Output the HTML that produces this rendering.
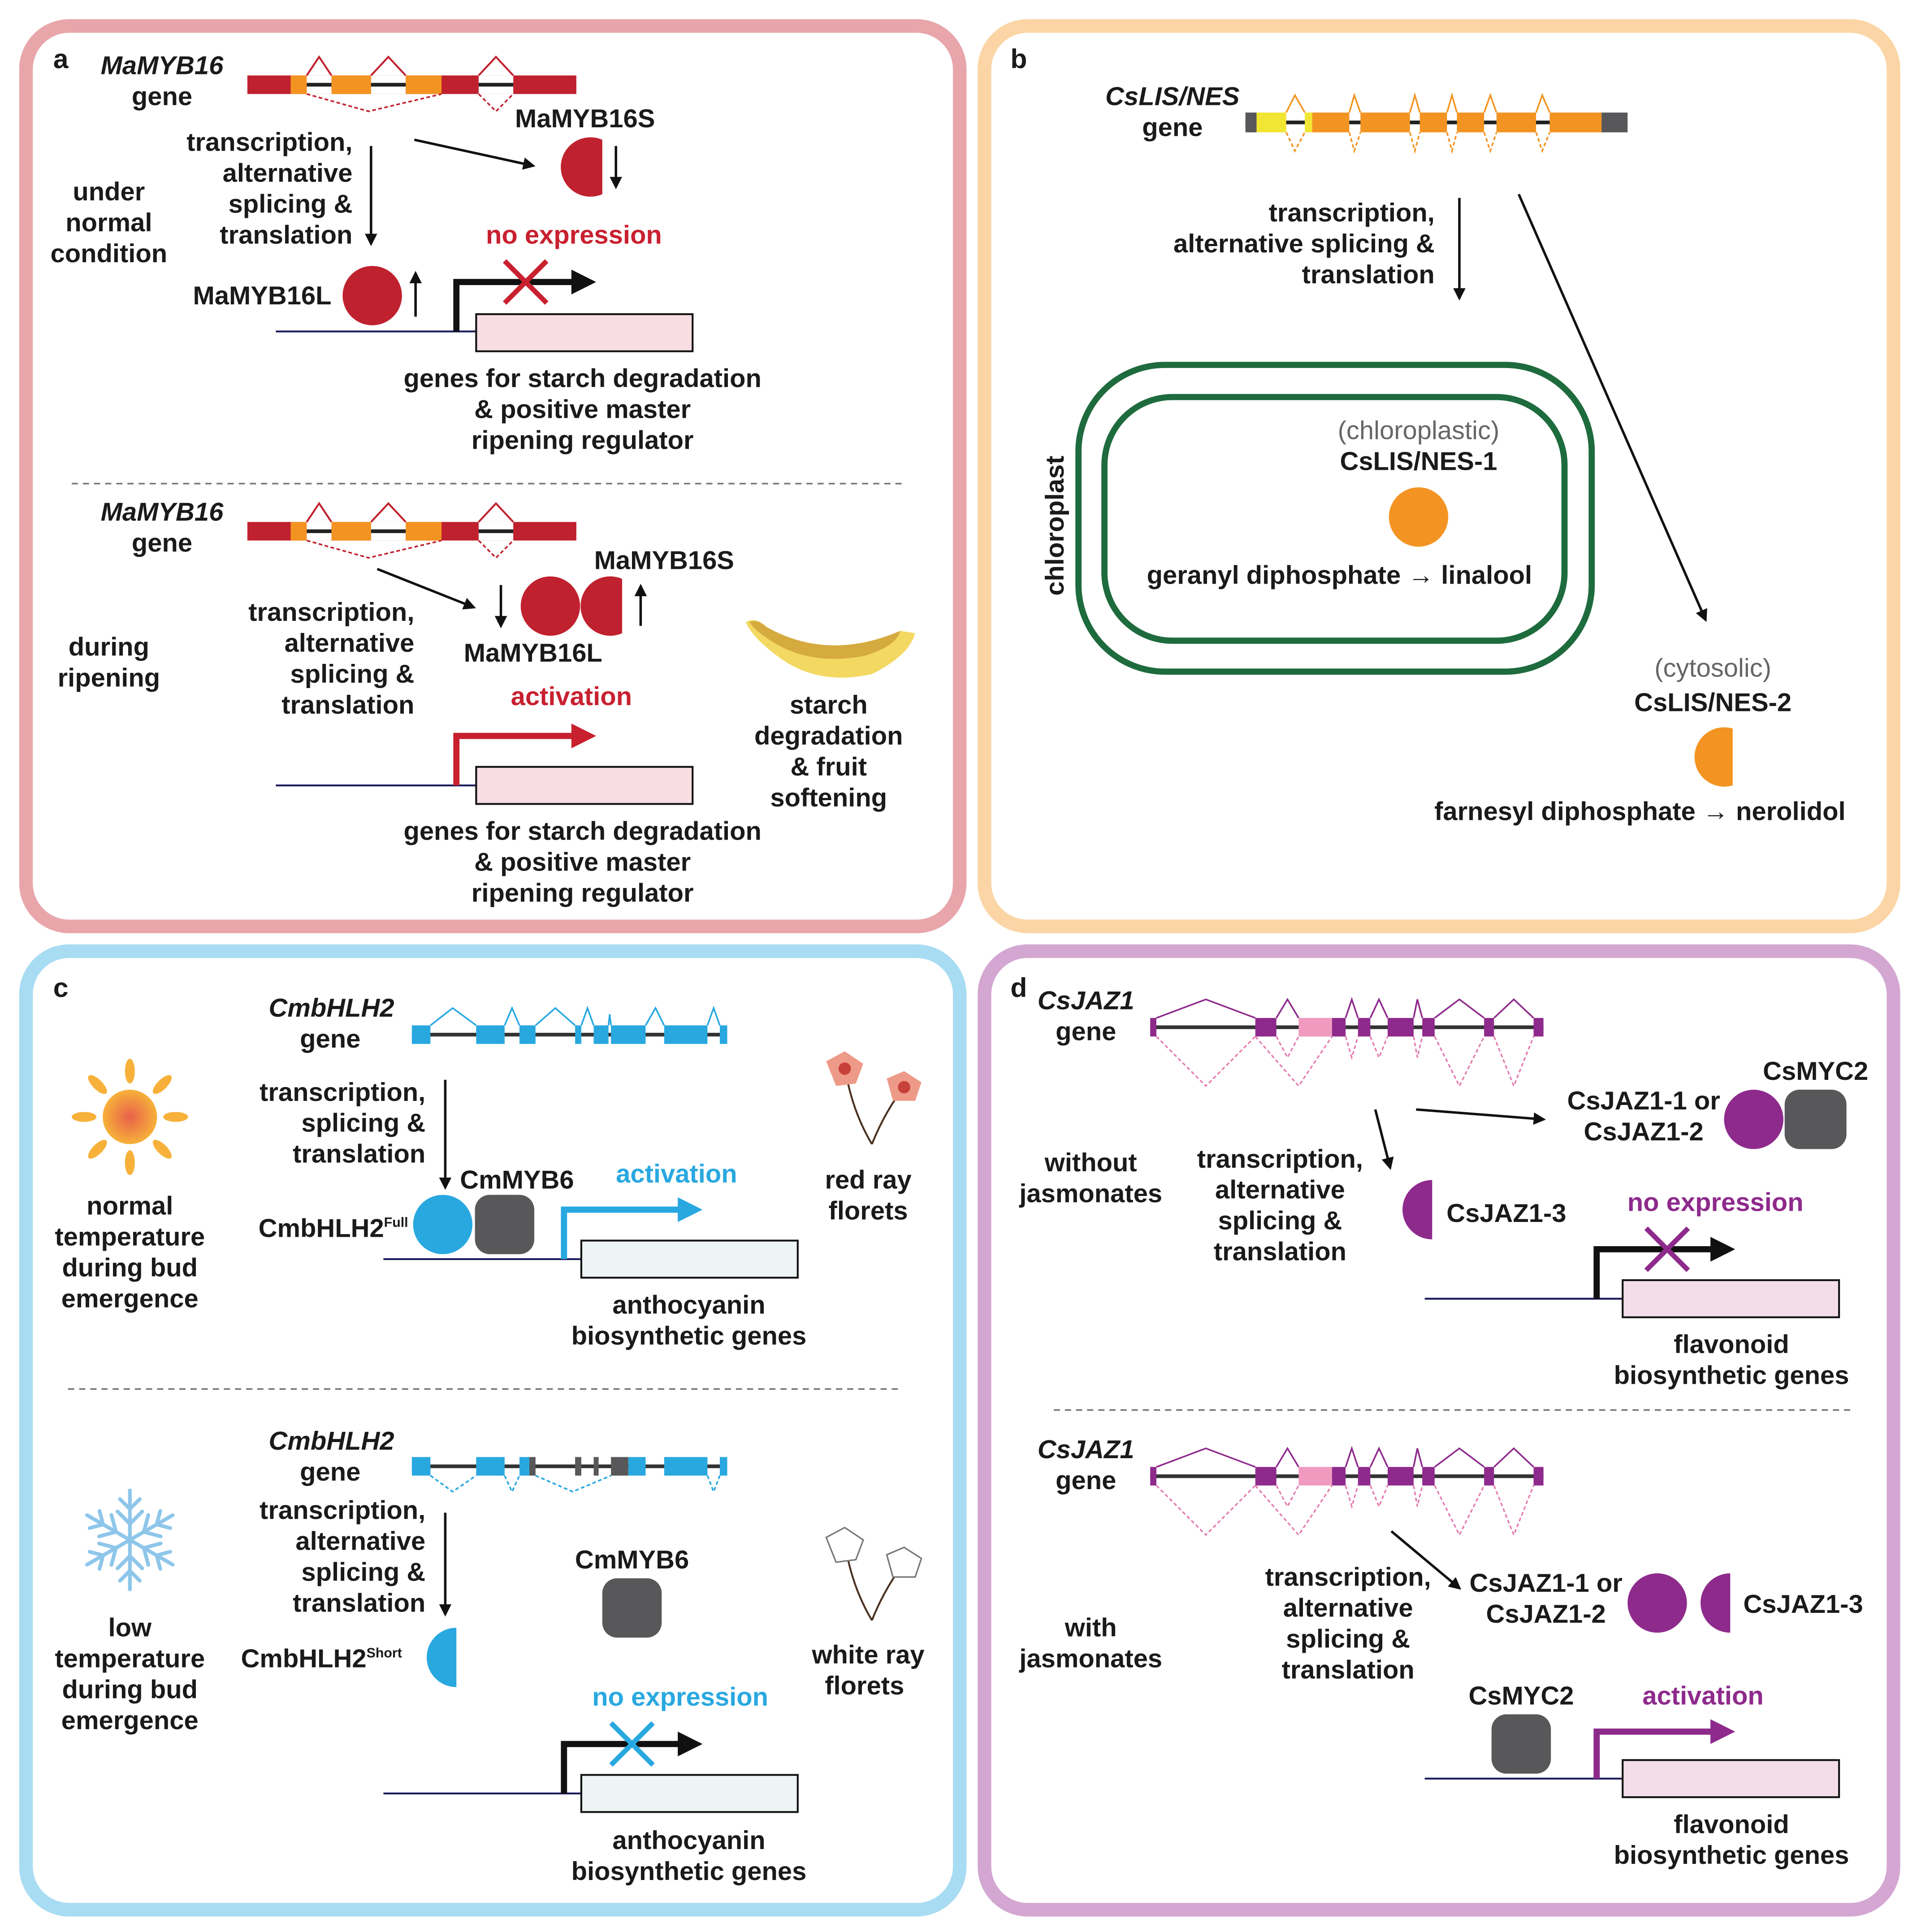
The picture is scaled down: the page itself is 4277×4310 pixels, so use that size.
<!DOCTYPE html>
<html><head><meta charset="utf-8"><style>
html,body{margin:0;padding:0;background:#fff;}
svg{display:block;}
text{font-family:"Liberation Sans",Arial,sans-serif;font-weight:bold;font-size:21px;fill:#1a1a1a;}
.c{text-anchor:middle}.r{text-anchor:end}.i{font-style:italic}
</style></head><body>
<svg width="4277" height="4310" viewBox="0 0 1550 1562" xmlns="http://www.w3.org/2000/svg">
<defs>
<marker id="ah" markerWidth="10" markerHeight="10" refX="8" refY="5" orient="auto" markerUnits="userSpaceOnUse"><path d="M0,0 L10,5 L0,10 Z" fill="#111"/></marker>
<radialGradient id="sun"><stop offset="0" stop-color="#e8604a"/><stop offset="1" stop-color="#f7b13a"/></radialGradient>
</defs>
<rect width="1550" height="1562" fill="#fff"/>
<rect x="21" y="21" width="755" height="728" rx="35" fill="none" stroke="#e8a6ab" stroke-width="11"/>
<rect x="796" y="21" width="735" height="728" rx="35" fill="none" stroke="#fbd5a5" stroke-width="11"/>
<rect x="21" y="769" width="755" height="775" rx="35" fill="none" stroke="#a8dcf2" stroke-width="11"/>
<rect x="796" y="769" width="735" height="775" rx="35" fill="none" stroke="#d3a7d2" stroke-width="11"/>

<g stroke="#111" stroke-width="2" fill="none">
<line x1="300" y1="118" x2="300" y2="197" marker-end="url(#ah)"/>
<line x1="335" y1="113" x2="431" y2="134" marker-end="url(#ah)"/>
<line x1="498" y1="118" x2="498" y2="151" marker-end="url(#ah)"/>
<line x1="336" y1="256" x2="336" y2="221" marker-end="url(#ah)"/>
<line x1="305" y1="460" x2="383" y2="491" marker-end="url(#ah)"/>
<line x1="405" y1="473" x2="405" y2="506" marker-end="url(#ah)"/>
<line x1="518" y1="506" x2="518" y2="474" marker-end="url(#ah)"/>
<line x1="1180" y1="160" x2="1180" y2="241" marker-end="url(#ah)"/>
<line x1="1228" y1="157" x2="1379" y2="501" marker-end="url(#ah)"/>
<line x1="360" y1="873" x2="360" y2="960" marker-end="url(#ah)"/>
<line x1="360" y1="1223" x2="360" y2="1305" marker-end="url(#ah)"/>
<line x1="1112" y1="897" x2="1124" y2="944" marker-end="url(#ah)"/>
<line x1="1145" y1="897" x2="1248" y2="905" marker-end="url(#ah)"/>
<line x1="1125" y1="1238" x2="1180" y2="1284" marker-end="url(#ah)"/>
</g>

<!-- ===== Panel a ===== -->
<text x="43" y="55" style="font-size:22px">a</text>
<text x="131" y="60" class="c i">MaMYB16</text><text x="131" y="85" class="c">gene</text>
<g id="ga">
<rect x="200" y="61" width="266" height="15" fill="#c0212e"/>
<rect x="235" y="61" width="13" height="15" fill="#f39422"/>
<rect x="268" y="61" width="32" height="15" fill="#f39422"/>
<rect x="328" y="61" width="29" height="15" fill="#f39422"/>
<rect x="248" y="61" width="20" height="15" fill="#fff"/>
<rect x="300" y="61" width="28" height="15" fill="#fff"/>
<rect x="387" y="61" width="28" height="15" fill="#fff"/>
<line x1="248" y1="68.5" x2="268" y2="68.5" stroke="#222" stroke-width="3"/>
<line x1="300" y1="68.5" x2="328" y2="68.5" stroke="#222" stroke-width="3"/>
<line x1="387" y1="68.5" x2="415" y2="68.5" stroke="#222" stroke-width="3"/>
<polyline points="248,61 258,46 268,61" fill="none" stroke="#c0212e" stroke-width="1.5"/>
<polyline points="300,61 314,46 328,61" fill="none" stroke="#c0212e" stroke-width="1.5"/>
<polyline points="387,61 401,46 415,61" fill="none" stroke="#c0212e" stroke-width="1.5"/>
<polyline points="248,76 298,90 357,76" fill="none" stroke="#c0212e" stroke-width="1.3" stroke-dasharray="3,2"/>
<polyline points="387,76 401,90 415,76" fill="none" stroke="#c0212e" stroke-width="1.3" stroke-dasharray="3,2"/>
</g>
<use href="#ga" transform="translate(0,361)"/>
<text x="285" y="122" class="r">transcription,</text><text x="285" y="147" class="r">alternative</text><text x="285" y="172" class="r">splicing &amp;</text><text x="285" y="197" class="r">translation</text>
<text x="473" y="103" class="c">MaMYB16S</text>
<path d="M487,113 A24,24 0 1 0 487,157 Z" fill="#c0212e"/>
<text x="88" y="162" class="c">under</text><text x="88" y="187" class="c">normal</text><text x="88" y="212" class="c">condition</text>
<text x="464" y="197" class="c" style="fill:#c8202f">no expression</text>
<text x="268" y="246" class="r">MaMYB16L</text>
<circle cx="301" cy="239" r="24" fill="#c0212e"/>
<line x1="223" y1="268" x2="385" y2="268" stroke="#1a1a5a" stroke-width="1.5"/>
<rect x="385" y="254" width="175" height="30" fill="#f8dde2" stroke="#111" stroke-width="1.5"/>
<polyline points="369,268 369,228 466,228" fill="none" stroke="#111" stroke-width="5"/>
<path d="M462,218 L482,228 L462,238Z" fill="#111"/>
<g stroke="#c8202f" stroke-width="4"><line x1="408" y1="211" x2="442" y2="245"/><line x1="442" y1="211" x2="408" y2="245"/></g>
<text x="471" y="313" class="c">genes for starch degradation</text><text x="471" y="338" class="c">&amp; positive master</text><text x="471" y="363" class="c">ripening regulator</text>
<line x1="58" y1="391" x2="732" y2="391" stroke="#777" stroke-width="1.3" stroke-dasharray="5,4"/>
<text x="131" y="421" class="c i">MaMYB16</text><text x="131" y="446" class="c">gene</text>
<circle cx="445" cy="490" r="24" fill="#c0212e"/>
<path d="M503,468 A24,24 0 1 0 503,512 Z" fill="#c0212e"/>
<text x="537" y="460" class="c">MaMYB16S</text><text x="431" y="535" class="c">MaMYB16L</text>
<text x="335" y="502" class="r">transcription,</text><text x="335" y="527" class="r">alternative</text><text x="335" y="552" class="r">splicing &amp;</text><text x="335" y="577" class="r">translation</text>
<text x="88" y="530" class="c">during</text><text x="88" y="555" class="c">ripening</text>
<text x="462" y="570" class="c" style="fill:#c8202f">activation</text>
<line x1="223" y1="635" x2="385" y2="635" stroke="#1a1a5a" stroke-width="1.5"/>
<rect x="385" y="620" width="175" height="30" fill="#f8dde2" stroke="#111" stroke-width="1.5"/>
<polyline points="369,635 369,595 466,595" fill="none" stroke="#c8202f" stroke-width="5"/>
<path d="M462,585 L482,595 L462,605Z" fill="#c8202f"/>
<text x="471" y="679" class="c">genes for starch degradation</text><text x="471" y="704" class="c">&amp; positive master</text><text x="471" y="729" class="c">ripening regulator</text>
<path d="M603,503 Q612,498 620,508 Q670,540 728,510 L740,512 Q735,530 705,545 Q660,555 628,530 Q608,515 603,503Z" fill="#f3d862"/>
<path d="M606,503 Q612,500 620,507 Q670,535 728,510 Q725,522 700,530 Q660,538 630,522 Q612,512 606,503Z" fill="#d5aa3e"/>
<text x="670" y="577" class="c">starch</text><text x="670" y="602" class="c">degradation</text><text x="670" y="627" class="c">&amp; fruit</text><text x="670" y="652" class="c">softening</text>

<!-- ===== Panel b ===== -->
<text x="817" y="55" style="font-size:22px">b</text>
<text x="948" y="85" class="c i">CsLIS/NES</text><text x="948" y="110" class="c">gene</text>
<line x1="1007" y1="99" x2="1316" y2="99" stroke="#222" stroke-width="3"/>
<rect x="1007" y="91" width="9" height="16" fill="#58585a"/>
<rect x="1016" y="91" width="24" height="16" fill="#f1e634"/>
<rect x="1055" y="91" width="6" height="16" fill="#f1e634"/>
<g fill="#f39422"><rect x="1061" y="91" width="30" height="16"/><rect x="1100" y="91" width="40" height="16"/><rect x="1148" y="91" width="22" height="16"/><rect x="1178" y="91" width="22" height="16"/><rect x="1210" y="91" width="32" height="16"/><rect x="1253" y="91" width="42" height="16"/></g>
<rect x="1295" y="91" width="21" height="16" fill="#58585a"/>
<g fill="none" stroke="#f39422" stroke-width="1.3">
<polyline points="1040,91 1047,77 1055,91"/><polyline points="1091,91 1095,77 1100,91"/><polyline points="1140,91 1144,77 1148,91"/><polyline points="1170,91 1174,77 1178,91"/><polyline points="1200,91 1205,77 1210,91"/><polyline points="1242,91 1247,77 1253,91"/>
<g stroke-dasharray="3,2"><polyline points="1040,107 1047,122 1055,107"/><polyline points="1091,107 1095,122 1100,107"/><polyline points="1140,107 1144,122 1148,107"/><polyline points="1170,107 1174,122 1178,107"/><polyline points="1200,107 1205,122 1210,107"/><polyline points="1242,107 1247,122 1253,107"/></g>
</g>
<text x="1160" y="179" class="r">transcription,</text><text x="1160" y="204" class="r">alternative splicing &amp;</text><text x="1160" y="229" class="r">translation</text>
<rect x="872" y="295" width="415" height="248" rx="70" fill="none" stroke="#1e6b3e" stroke-width="5"/>
<rect x="893" y="321" width="372" height="197" rx="55" fill="none" stroke="#1e6b3e" stroke-width="5"/>
<text transform="translate(860,425) rotate(-90)" class="c">chloroplast</text>
<text x="1147" y="355" class="c" style="fill:#666;font-weight:normal">(chloroplastic)</text>
<text x="1147" y="380" class="c">CsLIS/NES-1</text>
<circle cx="1147" cy="418" r="24" fill="#f39422"/>
<text x="1083" y="472" class="c">geranyl diphosphate → linalool</text>
<text x="1385" y="547" class="c" style="fill:#666;font-weight:normal">(cytosolic)</text>
<text x="1385" y="575" class="c">CsLIS/NES-2</text>
<path d="M1401,589 A24,24 0 1 0 1401,635 Z" fill="#f39422"/>
<text x="1326" y="663" class="c">farnesyl diphosphate → nerolidol</text>

<!-- ===== Panel c ===== -->
<text x="43" y="806" style="font-size:22px">c</text>
<text x="268" y="822" class="c i">CmbHLH2</text><text x="267" y="847" class="c">gene</text>
<line x1="333" y1="836.5" x2="588" y2="836.5" stroke="#333" stroke-width="3"/>
<g fill="#29a8e0"><rect x="333" y="829" width="15" height="15"/><rect x="385" y="829" width="23" height="15"/><rect x="420" y="829" width="13" height="15"/><rect x="465" y="829" width="5" height="15"/><rect x="480" y="829" width="12" height="15"/><rect x="494" y="829" width="28" height="15"/><rect x="537" y="829" width="35" height="15"/><rect x="582" y="829" width="6" height="15"/></g>
<g fill="none" stroke="#29a8e0" stroke-width="1.3"><polyline points="348,829 366,815 385,829"/><polyline points="408,829 414,815 420,829"/><polyline points="433,829 449,815 465,829"/><polyline points="470,829 475,815 480,829"/><polyline points="492,829 493,820 494,829"/><polyline points="522,829 530,815 537,829"/><polyline points="572,829 577,815 582,829"/></g>
<g fill="#f7b13a"><g id="ray"><ellipse cx="105" cy="866" rx="4" ry="10"/></g>
<use href="#ray" transform="rotate(45 105 903)"/><use href="#ray" transform="rotate(90 105 903)"/><use href="#ray" transform="rotate(135 105 903)"/><use href="#ray" transform="rotate(180 105 903)"/><use href="#ray" transform="rotate(225 105 903)"/><use href="#ray" transform="rotate(270 105 903)"/><use href="#ray" transform="rotate(315 105 903)"/></g>
<circle cx="105" cy="903" r="22" fill="url(#sun)"/>
<text x="105" y="982" class="c">normal</text><text x="105" y="1007" class="c">temperature</text><text x="105" y="1032" class="c">during bud</text><text x="105" y="1057" class="c">emergence</text>
<text x="344" y="890" class="r">transcription,</text><text x="344" y="915" class="r">splicing &amp;</text><text x="344" y="940" class="r">translation</text>
<text x="418" y="961" class="c">CmMYB6</text>
<text x="330" y="1000" class="r">CmbHLH2<tspan dy="-8" style="font-size:11px">Full</tspan></text>
<circle cx="358" cy="990" r="24" fill="#29a8e0"/>
<rect x="384" y="966" width="48" height="48" rx="12" fill="#58585a"/>
<text x="547" y="956" class="c" style="fill:#29a8e0">activation</text>
<line x1="310" y1="1018" x2="470" y2="1018" stroke="#1a1a5a" stroke-width="1.5"/>
<rect x="470" y="1003" width="175" height="30" fill="#ecf4f6" stroke="#111" stroke-width="1.5"/>
<polyline points="456,1018 456,978 552,978" fill="none" stroke="#29a8e0" stroke-width="5"/>
<path d="M548,968 L568,978 L548,988Z" fill="#29a8e0"/>
<text x="557" y="1062" class="c">anthocyanin</text><text x="557" y="1087" class="c">biosynthetic genes</text>
<g stroke="#4a3020" stroke-width="1.5" fill="none"><path d="M684,868 Q690,900 705,925"/><path d="M730,880 Q715,900 705,925"/></g>
<g fill="#ee9a88"><path d="M668,858 L683,850 L698,860 L692,876 L676,878Z"/><path d="M717,872 L731,866 L745,875 L740,890 L722,890Z"/></g>
<circle cx="683" cy="864" r="5" fill="#c8403a"/><circle cx="731" cy="879" r="5" fill="#c8403a"/>
<text x="702" y="961" class="c">red ray</text><text x="702" y="986" class="c">florets</text>
<line x1="55" y1="1123" x2="728" y2="1123" stroke="#777" stroke-width="1.3" stroke-dasharray="5,4"/>
<text x="268" y="1172" class="c i">CmbHLH2</text><text x="267" y="1197" class="c">gene</text>
<line x1="333" y1="1185.5" x2="588" y2="1185.5" stroke="#333" stroke-width="3"/>
<g fill="#29a8e0"><rect x="333" y="1178" width="15" height="15"/><rect x="385" y="1178" width="23" height="15"/><rect x="420" y="1178" width="8" height="15"/><rect x="508" y="1178" width="14" height="15"/><rect x="537" y="1178" width="35" height="15"/><rect x="582" y="1178" width="6" height="15"/></g>
<g fill="#58585a"><rect x="428" y="1178" width="5" height="15"/><rect x="465" y="1178" width="5" height="15"/><rect x="480" y="1178" width="4" height="15"/><rect x="494" y="1178" width="14" height="15"/></g>
<g fill="none" stroke="#29a8e0" stroke-width="1.3" stroke-dasharray="3,2"><polyline points="348,1193 366,1206 385,1193"/><polyline points="408,1193 414,1206 420,1193"/><polyline points="433,1193 463,1206 494,1193"/><polyline points="572,1193 577,1206 582,1193"/></g>
<g stroke="#8ec6ea" stroke-width="3" fill="none" stroke-linecap="round">
<g id="arm"><line x1="105" y1="1245" x2="105" y2="1205"/><polyline points="97,1212 105,1220 113,1212"/><polyline points="95,1222 105,1232 115,1222"/></g>
<use href="#arm" transform="rotate(60 105 1245)"/><use href="#arm" transform="rotate(120 105 1245)"/><use href="#arm" transform="rotate(180 105 1245)"/><use href="#arm" transform="rotate(240 105 1245)"/><use href="#arm" transform="rotate(300 105 1245)"/></g>
<text x="105" y="1323" class="c">low</text><text x="105" y="1348" class="c">temperature</text><text x="105" y="1373" class="c">during bud</text><text x="105" y="1398" class="c">emergence</text>
<text x="344" y="1228" class="r">transcription,</text><text x="344" y="1253" class="r">alternative</text><text x="344" y="1278" class="r">splicing &amp;</text><text x="344" y="1303" class="r">translation</text>
<text x="511" y="1268" class="c">CmMYB6</text>
<rect x="487" y="1276" width="48" height="48" rx="12" fill="#58585a"/>
<text x="325" y="1348" class="r">CmbHLH2<tspan dy="-8" style="font-size:11px">Short</tspan></text>
<path d="M369,1316 A24,24 0 1 0 369,1364 Z" fill="#29a8e0"/>
<text x="550" y="1379" class="c" style="fill:#29a8e0">no expression</text>
<line x1="310" y1="1450" x2="470" y2="1450" stroke="#1a1a5a" stroke-width="1.5"/>
<rect x="470" y="1435" width="175" height="30" fill="#ecf4f6" stroke="#111" stroke-width="1.5"/>
<polyline points="456,1450 456,1410 552,1410" fill="none" stroke="#111" stroke-width="5"/>
<path d="M548,1400 L568,1410 L548,1420Z" fill="#111"/>
<g stroke="#29a8e0" stroke-width="4"><line x1="494" y1="1393" x2="528" y2="1427"/><line x1="528" y1="1393" x2="494" y2="1427"/></g>
<text x="557" y="1495" class="c">anthocyanin</text><text x="557" y="1520" class="c">biosynthetic genes</text>
<g stroke="#4a3020" stroke-width="1.5" fill="none"><path d="M684,1253 Q690,1285 705,1310"/><path d="M730,1265 Q715,1285 705,1310"/></g>
<g fill="#fff" stroke="#777" stroke-width="1.2"><path d="M668,1243 L683,1235 L698,1245 L692,1261 L676,1263Z"/><path d="M717,1257 L731,1251 L745,1260 L740,1275 L722,1275Z"/></g>
<text x="702" y="1345" class="c">white ray</text><text x="699" y="1370" class="c">florets</text>

<!-- ===== Panel d ===== -->
<text x="817" y="806" style="font-size:22px">d</text>
<g id="gd">
<line x1="930" y1="830.5" x2="1248" y2="830.5" stroke="#333" stroke-width="3"/>
<g fill="#8e2a8c"><rect x="930" y="823" width="5" height="15"/><rect x="1015" y="823" width="17" height="15"/><rect x="1077" y="823" width="11" height="15"/><rect x="1098" y="823" width="10" height="15"/><rect x="1122" y="823" width="21" height="15"/><rect x="1150" y="823" width="10" height="15"/><rect x="1200" y="823" width="8" height="15"/><rect x="1240" y="823" width="8" height="15"/></g>
<rect x="1050" y="823" width="27" height="15" fill="#f09ac0"/>
<g fill="none" stroke="#8e2a8c" stroke-width="1.3"><polyline points="935,823 975,808 1015,823"/><polyline points="1032,823 1041,808 1050,823"/><polyline points="1088,823 1093,808 1098,823"/><polyline points="1108,823 1115,808 1122,823"/><polyline points="1143,823 1146,808 1150,823"/><polyline points="1160,823 1180,808 1200,823"/><polyline points="1208,823 1224,808 1240,823"/></g>
<g fill="none" stroke="#e57ab0" stroke-width="1.2" stroke-dasharray="3,2"><polyline points="935,838 975,878 1015,838"/><polyline points="1032,838 1041,855 1050,838"/><polyline points="1015,838 1050,878 1077,838"/><polyline points="1088,838 1093,855 1098,838"/><polyline points="1108,838 1115,855 1122,838"/><polyline points="1143,838 1146,855 1150,838"/><polyline points="1160,838 1180,878 1200,838"/><polyline points="1208,838 1224,878 1240,838"/></g>
</g>
<text x="878" y="816" class="c i">CsJAZ1</text><text x="878" y="841" class="c">gene</text>
<text x="1468" y="873" class="c">CsMYC2</text>
<text x="1329" y="897" class="c">CsJAZ1-1 or</text><text x="1329" y="922" class="c">CsJAZ1-2</text>
<circle cx="1418" cy="905" r="24" fill="#8e2a8c"/>
<rect x="1443" y="881" width="50" height="48" rx="12" fill="#58585a"/>
<text x="882" y="947" class="c">without</text><text x="882" y="972" class="c">jasmonates</text>
<text x="1035" y="944" class="c">transcription,</text><text x="1035" y="969" class="c">alternative</text><text x="1035" y="994" class="c">splicing &amp;</text><text x="1035" y="1019" class="c">translation</text>
<path d="M1158,954 A24,24 0 1 0 1158,1002 Z" fill="#8e2a8c"/>
<text x="1218" y="988" class="c">CsJAZ1-3</text>
<text x="1387" y="979" class="c" style="fill:#8e2a8c">no expression</text>
<line x1="1152" y1="1050" x2="1312" y2="1050" stroke="#1a1a5a" stroke-width="1.5"/>
<rect x="1312" y="1035" width="175" height="30" fill="#f3dde8" stroke="#111" stroke-width="1.5"/>
<polyline points="1291,1050 1291,1010 1387,1010" fill="none" stroke="#111" stroke-width="5"/>
<path d="M1383,1000 L1403,1010 L1383,1020Z" fill="#111"/>
<g stroke="#8e2a8c" stroke-width="4"><line x1="1331" y1="993" x2="1365" y2="1027"/><line x1="1365" y1="993" x2="1331" y2="1027"/></g>
<text x="1400" y="1094" class="c">flavonoid</text><text x="1400" y="1119" class="c">biosynthetic genes</text>
<line x1="852" y1="1140" x2="1498" y2="1140" stroke="#777" stroke-width="1.3" stroke-dasharray="5,4"/>
<use href="#gd" transform="translate(0,363)"/>
<text x="878" y="1179" class="c i">CsJAZ1</text><text x="878" y="1204" class="c">gene</text>
<text x="882" y="1323" class="c">with</text><text x="882" y="1348" class="c">jasmonates</text>
<text x="1090" y="1282" class="c">transcription,</text><text x="1090" y="1307" class="c">alternative</text><text x="1090" y="1332" class="c">splicing &amp;</text><text x="1090" y="1357" class="c">translation</text>
<text x="1250" y="1287" class="c">CsJAZ1-1 or</text><text x="1250" y="1312" class="c">CsJAZ1-2</text>
<circle cx="1340" cy="1296" r="24" fill="#8e2a8c"/>
<path d="M1399,1272 A24,24 0 1 0 1399,1320 Z" fill="#8e2a8c"/>
<text x="1458" y="1304" class="c">CsJAZ1-3</text>
<text x="1230" y="1378" class="c">CsMYC2</text>
<rect x="1206" y="1386" width="48" height="48" rx="12" fill="#58585a"/>
<text x="1377" y="1378" class="c" style="fill:#8e2a8c">activation</text>
<line x1="1152" y1="1438" x2="1312" y2="1438" stroke="#1a1a5a" stroke-width="1.5"/>
<rect x="1312" y="1423" width="175" height="30" fill="#f3dde8" stroke="#111" stroke-width="1.5"/>
<polyline points="1291,1438 1291,1400 1387,1400" fill="none" stroke="#8e2a8c" stroke-width="5"/>
<path d="M1383,1390 L1403,1400 L1383,1410Z" fill="#8e2a8c"/>
<text x="1400" y="1482" class="c">flavonoid</text><text x="1400" y="1507" class="c">biosynthetic genes</text>
</svg>
</body></html>
